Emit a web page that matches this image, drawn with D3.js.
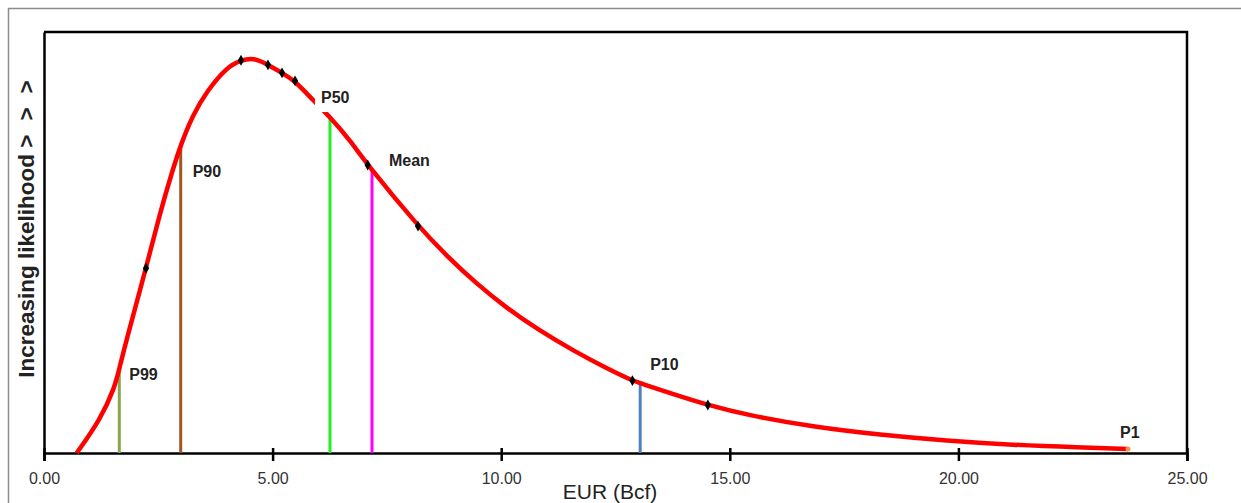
<!DOCTYPE html>
<html>
<head>
<meta charset="utf-8">
<script src="https://cdn.jsdelivr.net/npm/d3@7"></script>
<style>
  html, body { margin: 0; padding: 0; background: #fff; }
  svg { display: block; font-family: Arial, "Liberation Sans", sans-serif; }
</style>
</head>
<body>
<div id="chart"></div>
<script>
// EUR distribution curve (x in Bcf, y = relative likelihood)
const curveX = [0.715, 1.225, 1.553, 1.647, 1.844, 2.231, 2.537, 2.793, 2.990, 3.25, 3.565, 4.003, 4.309, 4.59,
  4.899, 5.206, 5.490, 5.884, 6.255, 6.69, 7.08, 8.18, 8.81, 9.45, 10.12, 10.85, 11.58, 12.31,
  12.87, 13.04, 13.76, 14.52, 15.38, 16.82, 18.29, 19.75, 21.19, 22.66, 23.71];
const curveY = [0, 7.8, 15.7, 20.1, 28.5, 43.9, 57.0, 66.5, 73.2, 80.2, 86.0, 91.7, 93.3, 93.9,
  92.2, 90.3, 88.4, 83.8, 79.8, 74.3, 68.4, 53.9, 46.8, 40.3, 34.4, 29.0, 24.3, 20.1,
  17.2, 16.6, 14.0, 11.4, 9.0, 6.2, 4.3, 2.9, 1.9, 1.3, 0.95];

// black diamond points on the curve
const markerX = [2.231, 4.309, 4.899, 5.206, 5.490, 7.08, 8.18, 12.87, 14.52];
const markerY = [43.9, 93.3, 92.2, 90.3, 88.4, 68.4, 53.9, 17.2, 11.4];

// percentile lines
const pctLabels = ['P99', 'P90', 'P50', 'Mean', 'P10', 'P1'];
const pctX = [1.647, 2.990, 6.255, 7.174, 13.04, 23.71];
const pctY = [20.1, 73.2, 79.8, 67.2, 16.6, 0.95];

const xTicks = [0, 5, 10, 15, 20, 25];
const xTitle = 'EUR (Bcf)';
const yTitle = 'Increasing likelihood';

// styles
const pctColors = ['#8aa84a', '#a0561e', '#22ee22', '#ff00ff', '#4f81bd', '#f79646'];
const labelOffset = {          // [dx, dy] of label left/centre from line top
  P99: [10, 6], P90: [12, 27], P50: [-9, -20], Mean: [17, -10], P10: [10, -19], P1: [-8, -17]
};

const W = 1241, H = 503;
const svg = d3.select('#chart').append('svg').attr('width', W).attr('height', H);

// outer gray frame (only top/left visible)
svg.append('path')
  .attr('d', `M8.5,${H} V8.5 H${W}`)
  .attr('fill', 'none').attr('stroke', '#8c8c8c').attr('stroke-width', 1.5);

const x = d3.scaleLinear().domain([0, 25]).range([44, 1187]);
const y = d3.scaleLinear().domain([0, 100]).range([453, 32]);

// plot box top + right
svg.append('path')
  .attr('d', `M${x(0)},${y(100)} H${x(25)} V${y(0)}`)
  .attr('fill', 'none').attr('stroke', '#000').attr('stroke-width', 2.5);

// left axis line
svg.append('g')
  .attr('transform', `translate(${x(0)},0)`)
  .call(d3.axisLeft(y).tickValues([]).tickSizeOuter(0))
  .call(g => g.select('.domain').attr('stroke-width', 2.5));

// x axis
const xAxis = svg.append('g')
  .attr('transform', `translate(0,${y(0)})`)
  .call(d3.axisBottom(x).tickValues(xTicks).tickFormat(d3.format('.2f')).tickSizeOuter(0).tickSize(8).tickPadding(12));
xAxis.select('.domain').attr('stroke-width', 2.5);
xAxis.selectAll('.tick line').attr('y1', -5).attr('stroke-width', 2.5);
xAxis.selectAll('.tick text')
  .attr('font-size', 16).attr('fill', '#333').attr('font-family', 'Arial, "Liberation Sans", sans-serif');

// x title
svg.append('text')
  .attr('x', 610).attr('y', 499)
  .attr('text-anchor', 'middle')
  .attr('font-size', 21).attr('fill', '#222')
  .text(xTitle);

// y title
const yt = svg.append('text')
  .attr('transform', 'translate(34,222) rotate(-90)')
  .attr('text-anchor', 'middle')
  .attr('font-size', 22.5).attr('font-weight', 'bold').attr('fill', '#222');
yt.append('tspan').text(yTitle + ' ');
yt.append('tspan').attr('letter-spacing', 14).text('>>>');

// percentile vertical lines
const pct = pctLabels.map((label, i) => ({ label, x: pctX[i], y: pctY[i], color: pctColors[i] }));

svg.append('g').selectAll('line')
  .data(pct.filter(d => d.label !== 'P1'))
  .enter().append('line')
  .attr('x1', d => x(d.x)).attr('x2', d => x(d.x))
  .attr('y1', d => y(d.y)).attr('y2', y(0))
  .attr('stroke', d => d.color).attr('stroke-width', 3);

// curve (smoothed through the read points)
const line = d3.line()
  .x(i => x(curveX[i]))
  .y(i => y(curveY[i]))
  .curve(d3.curveBasis);

svg.append('path')
  .datum(d3.range(curveX.length))
  .attr('d', line)
  .attr('fill', 'none')
  .attr('stroke', '#ff0000')
  .attr('stroke-width', 4.5);

// P1 end marker
const p1 = pct.find(d => d.label === 'P1');
svg.append('circle')
  .attr('cx', x(p1.x)).attr('cy', y(p1.y)).attr('r', 2.5)
  .attr('fill', p1.color);

// diamonds
svg.append('g').selectAll('path')
  .data(markerX.map((v, i) => [v, markerY[i]]))
  .enter().append('path')
  .attr('transform', d => `translate(${x(d[0])},${y(d[1])})`)
  .attr('d', d3.symbol(d3.symbolDiamond, 34))
  .attr('fill', '#000');

// labels
const labels = svg.append('g').selectAll('g')
  .data(pct)
  .enter().append('g')
  .attr('transform', d => `translate(${x(d.x) + labelOffset[d.label][0]},${y(d.y) + labelOffset[d.label][1]})`);

// P50 label has a white box that cuts the curve
labels.filter(d => d.label === 'P50')
  .append('rect')
  .attr('x', -6).attr('y', -12).attr('width', 40).attr('height', 27)
  .attr('fill', '#fff');

labels.append('text')
  .attr('dominant-baseline', 'central')
  .attr('font-size', 16).attr('font-weight', 'bold').attr('fill', '#222')
  .text(d => d.label);
</script>
</body>
</html>
